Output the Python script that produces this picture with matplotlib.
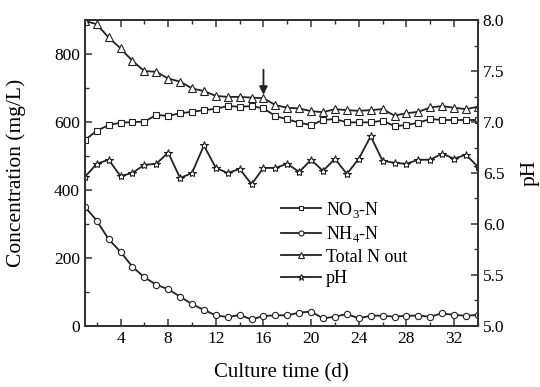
import matplotlib
matplotlib.use('Agg')
import matplotlib.pyplot as plt
from matplotlib.ticker import MultipleLocator

plt.rcParams['font.family'] = ['Liberation Serif', 'DejaVu Serif']
plt.rcParams['mathtext.fontset'] = 'custom'
plt.rcParams['mathtext.rm'] = 'Liberation Serif'

days = list(range(1, 35))
no3 = [547, 574, 591, 598, 600, 601, 621, 618, 626, 630, 635, 639, 647, 645, 647, 640, 618,
       608, 598, 591, 606, 609, 599, 599, 599, 604, 588, 591, 598, 609, 606, 606, 606, 606]
nh4 = [351, 310, 255, 218, 174, 143, 121, 108, 86, 64, 47, 31, 26, 32, 19, 29, 31,
       31, 39, 42, 22, 27, 35, 22, 30, 30, 27, 30, 30, 27, 37, 32, 30, 32]
total_n = [898, 888, 849, 817, 780, 750, 748, 728, 719, 699, 691, 677, 674, 674, 672, 670, 650,
           642, 640, 632, 629, 638, 635, 633, 635, 638, 619, 626, 630, 643, 647, 642, 638, 645]
ph = [6.46, 6.59, 6.63, 6.47, 6.50, 6.58, 6.59, 6.70, 6.45, 6.50, 6.77, 6.55, 6.50, 6.54, 6.39,
      6.55, 6.55, 6.59, 6.51, 6.63, 6.52, 6.64, 6.49, 6.64, 6.86, 6.62, 6.60, 6.59, 6.63, 6.63,
      6.69, 6.64, 6.68, 6.56]

fig = plt.figure(figsize=(5.4, 3.87), dpi=100)
ax = fig.add_axes([0.157, 0.158, 0.728, 0.79])
ax2 = ax.twinx()

lc = '#222222'
kw = dict(color=lc, lw=1.3, markerfacecolor='white', markeredgecolor=lc, markeredgewidth=0.8)
l1, = ax.plot(days, no3, marker='s', ms=4.3, label='NO$_3$-N', **kw)
l2, = ax.plot(days, nh4, marker='o', ms=4.5, label='NH$_4$-N', **kw)
l3, = ax.plot(days, total_n, marker='^', ms=5.5, label='Total N out', **kw)
l4, = ax2.plot(days, ph, marker='*', ms=6, label='pH', **kw)

ax.set_xlim(1, 34)
ax.set_ylim(0, 900)
ax2.set_ylim(5.0, 8.0)

ax.xaxis.set_major_locator(MultipleLocator(4))
ax.xaxis.set_minor_locator(MultipleLocator(2))
ax.yaxis.set_major_locator(MultipleLocator(200))
ax.yaxis.set_minor_locator(MultipleLocator(100))
ax2.yaxis.set_major_locator(MultipleLocator(0.5))
ax2.yaxis.set_minor_locator(MultipleLocator(0.25))
ax2.yaxis.set_major_formatter(plt.FormatStrFormatter('%.1f'))

ax.tick_params(which='both', direction='in', top=True, labelsize=12.5, color='#333333')
ax.tick_params(which='major', length=5, width=1.1)
ax.tick_params(which='minor', length=3, width=1.0)
ax2.tick_params(which='both', direction='in', labelsize=12.5, color='#333333')
ax2.tick_params(which='major', length=5, width=1.1)
ax2.tick_params(which='minor', length=3, width=1.0)

for a in (ax, ax2):
    for s in a.spines.values():
        s.set_linewidth(1.4)
        s.set_color('#333333')

ax.set_xlabel('Culture time (d)', fontsize=15, labelpad=12)
ax.set_ylabel('Concentration (mg/L)', fontsize=15.5, labelpad=20)
ax2.set_ylabel('pH', fontsize=15.5, labelpad=12)

# arrow marking day 16
ax.annotate('', xy=(16, 672), xytext=(16, 762),
            arrowprops=dict(arrowstyle='-|>', color=lc, lw=1.3, mutation_scale=12))

ax.legend(handles=[l1, l2, l3, l4], loc='center', bbox_to_anchor=(0.66, 0.27),
          frameon=False, fontsize=13, handlelength=2.2, labelspacing=0.25,
          handletextpad=0.3, markerscale=0.8)

fig.savefig('out.png', dpi=100)
